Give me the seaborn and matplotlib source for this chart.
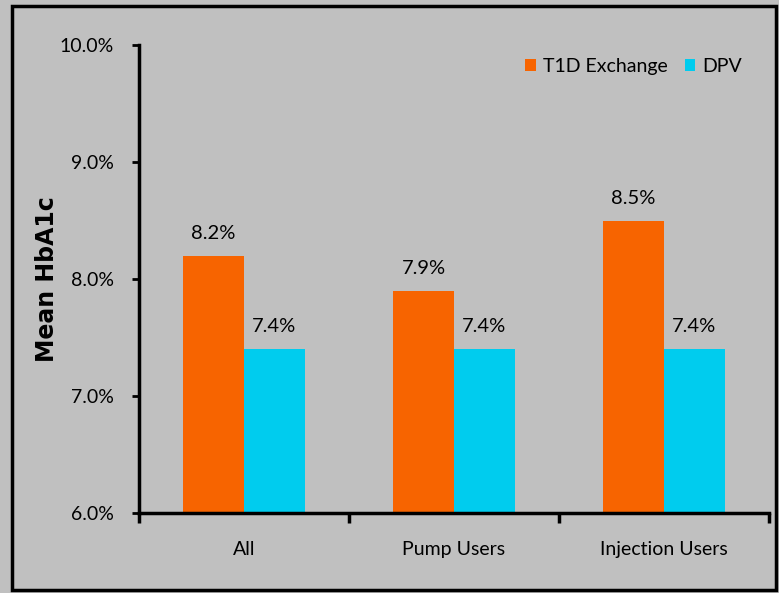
import pandas as pd
import matplotlib
matplotlib.use("Agg")
import matplotlib.pyplot as plt
import seaborn as sns
from matplotlib.patches import Patch, Rectangle

# chart data
groups = ["All", "Pump Users", "Injection Users"]
sources = ["T1D Exchange", "DPV"]
t1d_values = [8.2, 7.9, 8.5]
dpv_values = [7.4, 7.4, 7.4]
y_ticks = [6.0, 7.0, 8.0, 9.0, 10.0]

colors = {"T1D Exchange": "#F76400", "DPV": "#00CCEE"}
bg = "#C0C0C0"

df = pd.DataFrame({
    "group": groups * 2,
    "source": ["T1D Exchange"] * 3 + ["DPV"] * 3,
    "value": t1d_values + dpv_values,
})

sns.set_style("white")
plt.rcParams["font.family"] = ["Lato", "DejaVu Sans"]
plt.rcParams["text.color"] = "black"
plt.rcParams["xtick.color"] = "black"
plt.rcParams["ytick.color"] = "black"

fig = plt.figure(figsize=(7.79, 5.93), dpi=100, facecolor=bg)
ax = fig.add_axes([139 / 779, 80 / 593, 630 / 779, 468 / 593])
ax.set_facecolor(bg)

sns.barplot(data=df, x="group", y="value", hue="source", order=groups,
            hue_order=sources, palette=colors, width=0.58, saturation=1,
            linewidth=0, edgecolor="none", legend=False, ax=ax)

for cont in ax.containers:
    ax.bar_label(cont, labels=[f"{v:.1f}%" for v in cont.datavalues],
                 padding=10, fontsize=14.5, color="black")

ax.set_ylim(6.0, 10.0)
ax.set_xlim(-0.5, 2.5)
ax.set_yticks(y_ticks)
ax.set_yticklabels([f"{v:.1f}%" for v in y_ticks], fontsize=14)
ax.tick_params(axis="y", length=5, width=2, pad=13, left=True)
ax.set_xticks(range(3))
ax.set_xticklabels(groups, fontsize=14)
ax.tick_params(axis="x", length=0, pad=20)
ax.set_xticks([-0.5, 0.5, 1.5, 2.5], minor=True)
ax.tick_params(axis="x", which="minor", length=7, width=2.5, bottom=True)

for s in ["top", "right"]:
    ax.spines[s].set_visible(False)
for s in ["left", "bottom"]:
    ax.spines[s].set_linewidth(2.5)
    ax.spines[s].set_color("black")

ax.set_xlabel("")
ax.set_ylabel("")
fig.text(47 / 779, 1 - 279 / 593, "Mean HbA1c", rotation=90, ha="center",
         va="center", fontsize=17, fontweight="bold", family="DejaVu Sans")

handles = [Patch(facecolor=colors[s], edgecolor="none", label=s) for s in sources]
ax.legend(handles=handles, loc="upper right", bbox_to_anchor=(0.985, 1.01),
          ncol=2, frameon=False, fontsize=14, handlelength=0.55, handleheight=0.6,
          handletextpad=0.35, columnspacing=0.9)

fig.add_artist(Rectangle((12 / 779, 3 / 593), 764 / 779, 584 / 593,
                         transform=fig.transFigure, fill=False,
                         edgecolor="black", linewidth=2.5))

fig.savefig("out.png", dpi=100, facecolor=bg)
